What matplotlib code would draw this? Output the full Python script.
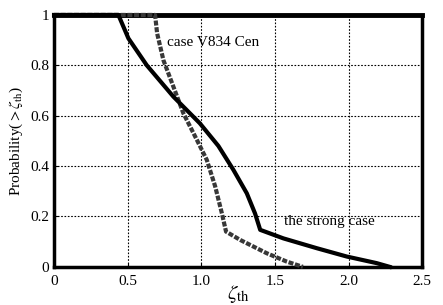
import numpy as np
import matplotlib
matplotlib.use('Agg')
import matplotlib.pyplot as plt

plt.rcParams['font.family'] = ['Liberation Serif', 'DejaVu Serif']
plt.rcParams['mathtext.fontset'] = 'stix'

# the strong case
strong_x = [0.0, 0.437, 0.505, 0.63, 0.81, 0.99, 1.116, 1.218, 1.309, 1.365, 1.40,
            1.558, 1.785, 1.988, 2.19, 2.28]
strong_y = [1.0, 1.0, 0.907, 0.80, 0.676, 0.57, 0.48, 0.385, 0.292, 0.212, 0.147,
            0.113, 0.074, 0.041, 0.015, 0.0]

# case V834 Cen
v834_x = [0.0, 0.686, 0.70, 0.743, 0.81, 0.878, 0.97, 1.037, 1.094, 1.14, 1.168,
          1.264, 1.445, 1.58, 1.69]
v834_y = [1.0, 1.0, 0.927, 0.82, 0.716, 0.61, 0.504, 0.425, 0.32, 0.212, 0.14,
          0.107, 0.054, 0.021, 0.0]

xticks = [0, 0.5, 1.0, 1.5, 2.0, 2.5]
xtick_labels = ['0', '0.5', '1.0', '1.5', '2.0', '2.5']
yticks = [0, 0.2, 0.4, 0.6, 0.8, 1]
ytick_labels = ['0', '0.2', '0.4', '0.6', '0.8', '1']

fig = plt.figure(figsize=(4.43, 3.05), dpi=100)
ax = fig.add_axes([0.122, 0.125, 0.831, 0.826])

ax.plot(v834_x, v834_y, color='#383838', lw=3, linestyle=(0, (1.2, 0.4)),
        clip_on=False, zorder=3)
ax.plot(strong_x, strong_y, color='black', lw=3, clip_on=False, zorder=4)

ax.set_xlim(0, 2.5)
ax.set_ylim(0, 1)
ax.set_xticks(xticks)
ax.set_xticklabels(xtick_labels)
ax.set_yticks(yticks)
ax.set_yticklabels(ytick_labels)
ax.tick_params(direction='in', length=3, labelsize=11, colors='black')
ax.tick_params(axis='x', pad=6)
ax.grid(True, color='black', linestyle=(0, (1.5, 1.5)), lw=0.8)

for s in ax.spines.values():
    s.set_linewidth(2.5)
ax.spines['top'].set_linewidth(3.5)

ax.text(0.77, 0.877, 'case V834 Cen', fontsize=11)
ax.text(1.56, 0.167, 'the strong case', fontsize=11)

ax.set_xlabel(r'$\zeta_{\rm th}$', fontsize=15, labelpad=-4)
ax.set_ylabel(r'Probability($>\zeta_{\rm th}$)', fontsize=11, labelpad=4)

fig.savefig('out.png', dpi=100)
